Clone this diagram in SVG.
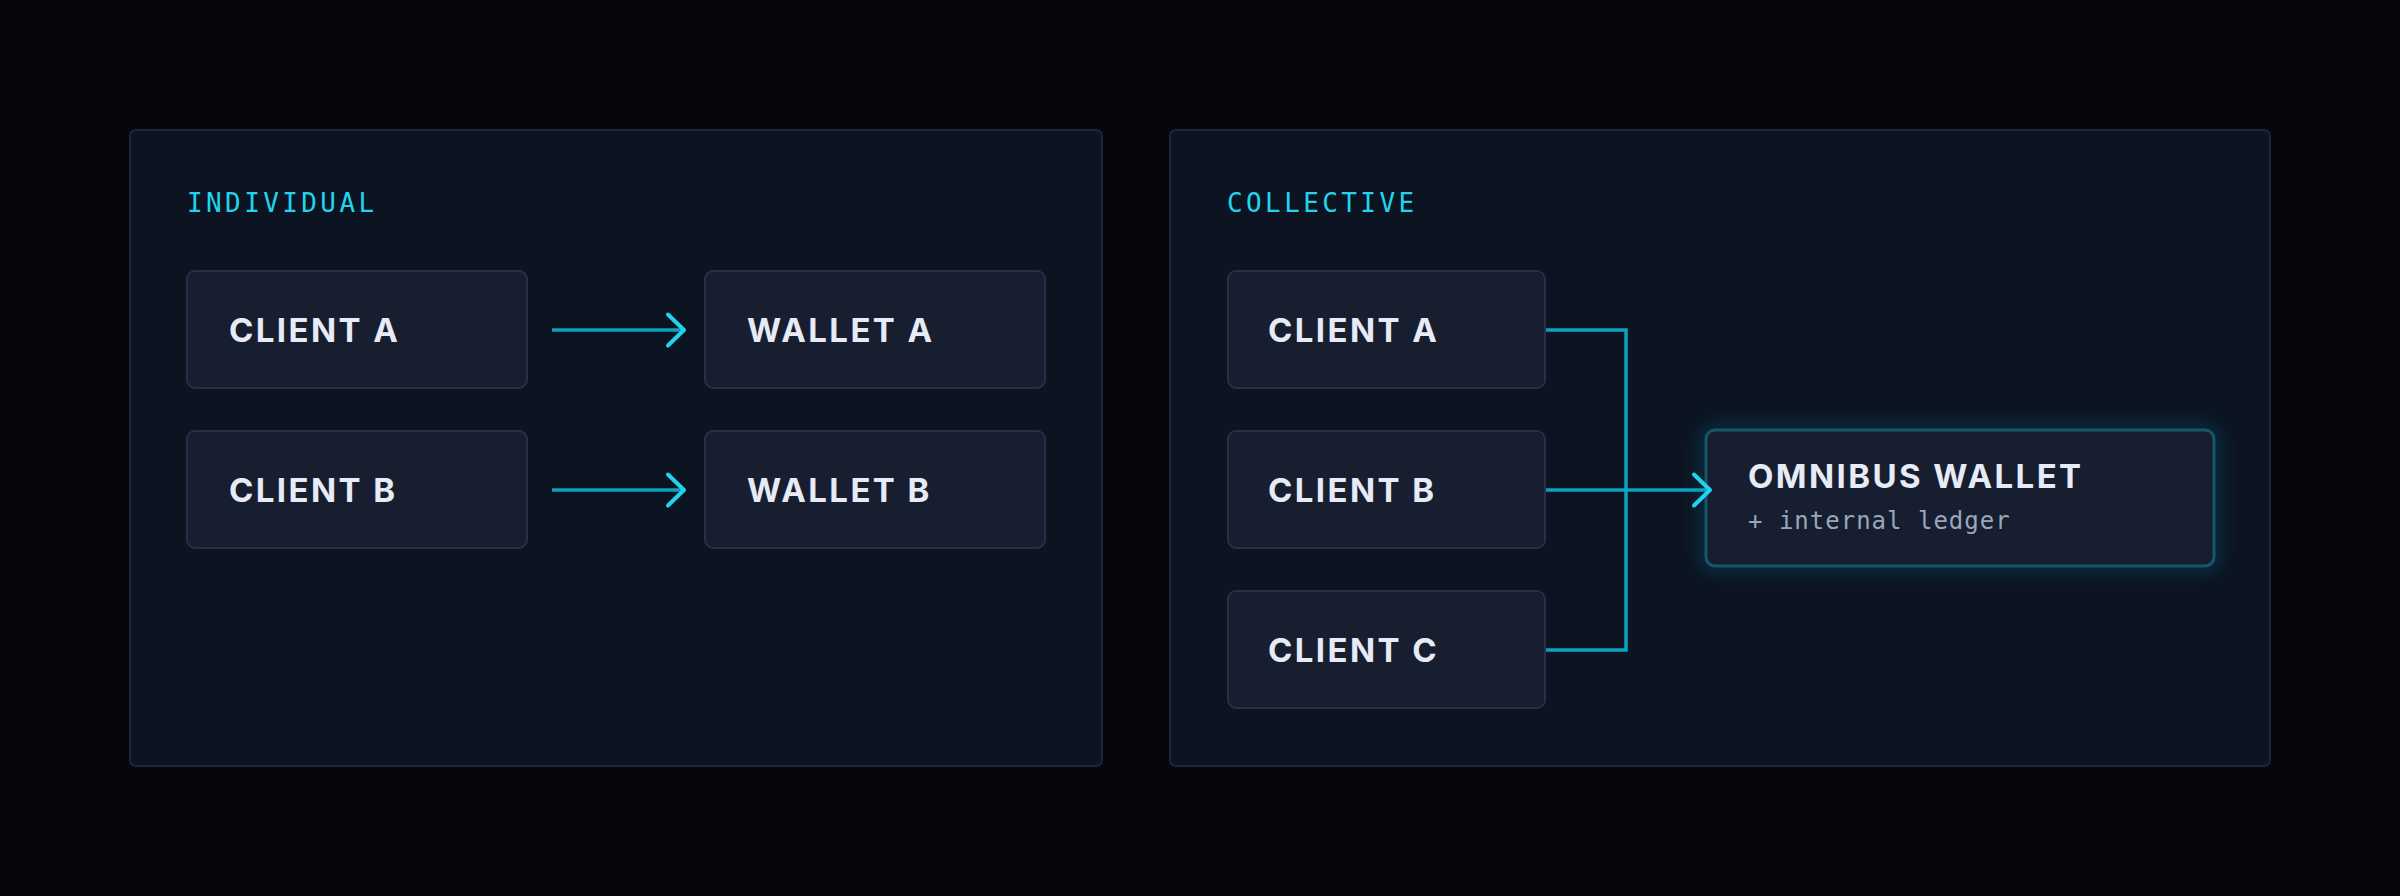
<svg xmlns="http://www.w3.org/2000/svg" width="2400" height="896" viewBox="0 0 2400 896">
  <defs>
    <style>
      .panel { fill: #0c1321; stroke: #1d2739; stroke-width: 2; }
      .box { fill: #161e30; stroke: #263046; stroke-width: 2; }
      .label { font-family: "DejaVu Sans Mono", "Liberation Mono", monospace; font-size: 26px; letter-spacing: 3.4px; fill: #22d3ee; }
      .title { font-family: Inter, "Liberation Sans", sans-serif; font-weight: 700; font-size: 33px; letter-spacing: 2.4px; fill: #e6ebf5; }
      .sub { font-family: "DejaVu Sans Mono", "Liberation Mono", monospace; font-size: 24px; letter-spacing: 1px; fill: #9aa6bd; }
      .wire { fill: none; stroke: #0ca2bf; stroke-width: 3.5; }
    </style>
    <marker id="chev" viewBox="-22 -22 28 44" markerWidth="28" markerHeight="44" refX="0" refY="0" orient="auto" markerUnits="userSpaceOnUse">
      <path d="M-16,-15.5 L0,0 L-16,15.5" fill="none" stroke="#22d3ee" stroke-width="4" stroke-linecap="round" stroke-linejoin="round"/>
    </marker>
    <filter id="glow" x="-20%" y="-40%" width="140%" height="180%">
      <feGaussianBlur stdDeviation="10"/>
    </filter>
  </defs>

  <rect x="0" y="0" width="2400" height="896" fill="#05070c"/>

  <g id="panel-individual">
    <rect class="panel" x="130" y="130" width="972" height="636" rx="6"/>
    <text class="label" x="187" y="212">INDIVIDUAL</text>
  </g>
  <g id="panel-collective">
    <rect class="panel" x="1170" y="130" width="1100" height="636" rx="6"/>
    <text class="label" x="1227" y="212">COLLECTIVE</text>
  </g>

  <g id="ind-client-a">
    <rect class="box" x="187" y="271" width="340" height="117" rx="8"/>
    <text class="title" x="229" y="342">CLIENT A</text>
  </g>
  <g id="ind-client-b">
    <rect class="box" x="187" y="431" width="340" height="117" rx="8"/>
    <text class="title" x="229" y="502">CLIENT B</text>
  </g>
  <g id="ind-wallet-a">
    <rect class="box" x="705" y="271" width="340" height="117" rx="8"/>
    <text class="title" x="747" y="342">WALLET A</text>
  </g>
  <g id="ind-wallet-b">
    <rect class="box" x="705" y="431" width="340" height="117" rx="8"/>
    <text class="title" x="747" y="502">WALLET B</text>
  </g>

  <g id="col-client-a">
    <rect class="box" x="1228" y="271" width="317" height="117" rx="8"/>
    <text class="title" x="1268" y="342">CLIENT A</text>
  </g>
  <g id="col-client-b">
    <rect class="box" x="1228" y="431" width="317" height="117" rx="8"/>
    <text class="title" x="1268" y="502">CLIENT B</text>
  </g>
  <g id="col-client-c">
    <rect class="box" x="1228" y="591" width="317" height="117" rx="8"/>
    <text class="title" x="1268" y="662">CLIENT C</text>
  </g>

  <g id="omnibus-wallet">
    <rect x="1706" y="430" width="508" height="136" rx="9" fill="none" stroke="#0e7490" stroke-width="8" opacity="0.55" filter="url(#glow)"/>
    <rect x="1706" y="430" width="508" height="136" rx="9" fill="#161e30" stroke="#17566b" stroke-width="3"/>
    <text class="title" x="1748" y="488">OMNIBUS WALLET</text>
    <text class="sub" x="1748" y="529">+ internal ledger</text>
  </g>

  <g id="connectors">
    <path class="wire" d="M552,330 H684" marker-end="url(#chev)"/>
    <path class="wire" d="M552,490 H684" marker-end="url(#chev)"/>
    <path class="wire" d="M1546,330 H1626 V650 H1546"/>
    <path class="wire" d="M1546,490 H1710" marker-end="url(#chev)"/>
  </g>
</svg>
